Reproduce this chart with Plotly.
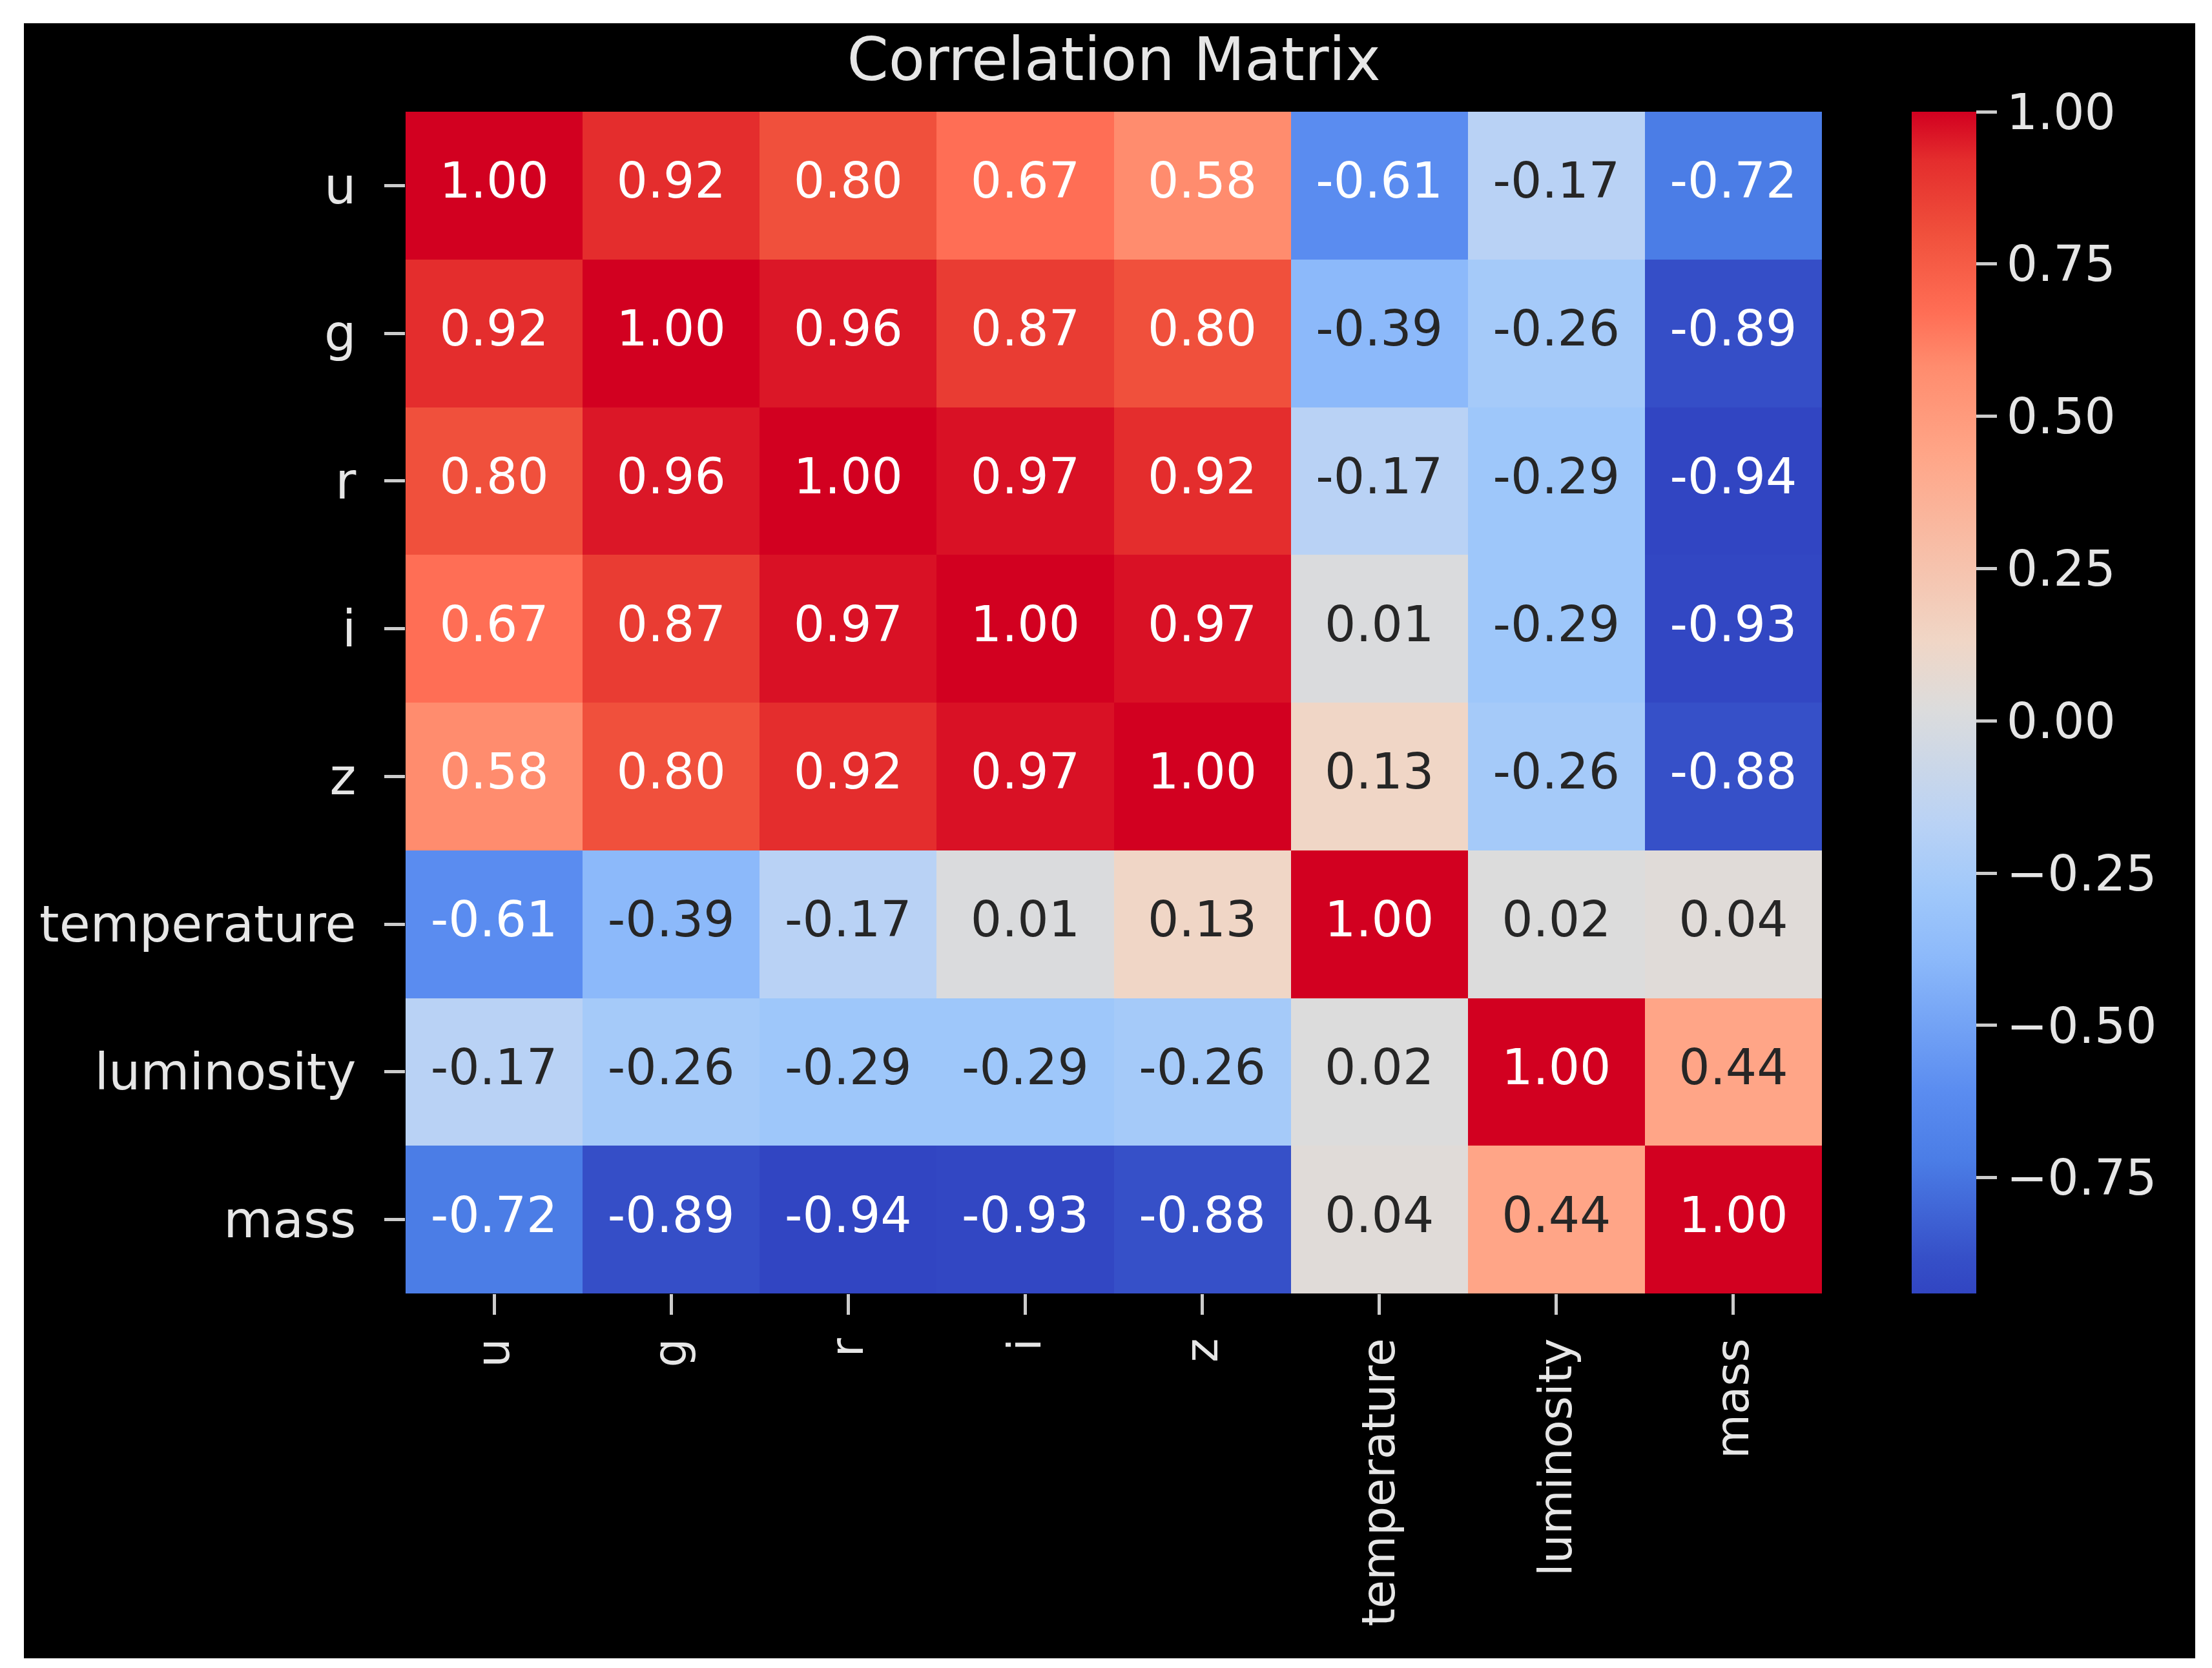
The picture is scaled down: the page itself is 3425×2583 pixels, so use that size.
import plotly.graph_objects as go

features = ["u", "g", "r", "i", "z", "temperature", "luminosity", "mass"]

corr = [
    [1.00, 0.92, 0.80, 0.67, 0.58, -0.61, -0.17, -0.72],
    [0.92, 1.00, 0.96, 0.87, 0.80, -0.39, -0.26, -0.89],
    [0.80, 0.96, 1.00, 0.97, 0.92, -0.17, -0.29, -0.94],
    [0.67, 0.87, 0.97, 1.00, 0.97, 0.01, -0.29, -0.93],
    [0.58, 0.80, 0.92, 0.97, 1.00, 0.13, -0.26, -0.88],
    [-0.61, -0.39, -0.17, 0.01, 0.13, 1.00, 0.02, 0.04],
    [-0.17, -0.26, -0.29, -0.29, -0.26, 0.02, 1.00, 0.44],
    [-0.72, -0.89, -0.94, -0.93, -0.88, 0.04, 0.44, 1.00],
]

cbar_ticks = [-0.75, -0.50, -0.25, 0.00, 0.25, 0.50, 0.75, 1.00]
cbar_labels = ["\u22120.75", "\u22120.50", "\u22120.25", "0.00", "0.25", "0.50", "0.75", "1.00"]

# coolwarm, a bit punchier like the screenshot
coolwarm = [
    [0.000, "#3145c2"],
    [0.031, "#3650c8"],
    [0.113, "#4b7de6"],
    [0.170, "#5a8cf0"],
    [0.284, "#8cb9fa"],
    [0.340, "#a0c8fa"],
    [0.397, "#b9d2f5"],
    [0.495, "#dcdcdc"],
    [0.552, "#f0d6c6"],
    [0.711, "#ffa587"],
    [0.784, "#ff8c6e"],
    [0.830, "#ff6e55"],
    [0.897, "#f0503c"],
    [0.959, "#e42d2d"],
    [1.000, "#d20020"],
]

W, H = 3425, 2583
L, R, T, B = 620, W - 2813, 165, H - 1995
pw, ph = W - L - R, H - T - B
FONT = "DejaVu Sans"

zmin = min(min(row) for row in corr)

# annotation text, white on strong colours, dark on pale ones
tx, ty, tt, tc = [], [], [], []
for yi, row in enumerate(corr):
    for xi, v in enumerate(row):
        tx.append(features[xi])
        ty.append(features[yi])
        tt.append("%.2f" % v)
        tc.append("#ffffff" if abs(v) >= 0.5 else "#262626")

fig = go.Figure()
fig.add_trace(go.Heatmap(
    z=corr, x=features, y=features,
    colorscale=coolwarm, zmin=zmin, zmax=1.0,
    hoverinfo="skip",
    colorbar=dict(
        x=(2952 - L) / pw, xanchor="left", xpad=0, ypad=0,
        y=0.5, yanchor="middle", len=1, lenmode="fraction",
        thickness=100, thicknessmode="pixels", outlinewidth=0,
        tickvals=cbar_ticks, ticktext=cbar_labels,
        ticks="outside", ticklen=32, tickwidth=5, tickcolor="#cccccc",
        tickfont=dict(family=FONT, size=76, color="#e6e6e6"),
    ),
))
fig.add_trace(go.Scatter(
    x=tx, y=ty, text=tt, mode="text",
    textfont=dict(family=FONT, size=76, color=tc),
    hoverinfo="skip", showlegend=False,
))

# black card with white border
fig.add_shape(type="rect", xref="paper", yref="paper", layer="below",
              x0=(29 - L) / pw, x1=(3391 - L) / pw,
              y0=(1995 - 2560) / ph, y1=(1995 - 28) / ph,
              fillcolor="black", line_width=0)

fig.update_xaxes(categoryorder="array", categoryarray=features,
                 showgrid=False, zeroline=False, showline=False,
                 ticks="outside", ticklen=32, tickwidth=5, tickcolor="#cccccc",
                 tickangle=-90, ticklabelstandoff=8,
                 tickfont=dict(family=FONT, size=71, color="#e6e6e6"))
fig.update_yaxes(categoryorder="array", categoryarray=features, autorange="reversed",
                 showgrid=False, zeroline=False, showline=False,
                 ticks="outside", ticklen=32, tickwidth=5, tickcolor="#cccccc",
                 ticklabelstandoff=28,
                 tickfont=dict(family=FONT, size=78, color="#e6e6e6"))

fig.update_layout(
    width=W, height=H,
    margin=dict(l=L, r=R, t=T, b=B, pad=0),
    paper_bgcolor="white", plot_bgcolor="black",
    title=dict(text="Correlation Matrix", x=0.5, xref="paper",
               y=1 - 84 / H, yref="container", yanchor="middle",
               font=dict(family=FONT, size=92, color="#e6e6e6")),
    showlegend=False,
)

fig.write_html("out.html")
